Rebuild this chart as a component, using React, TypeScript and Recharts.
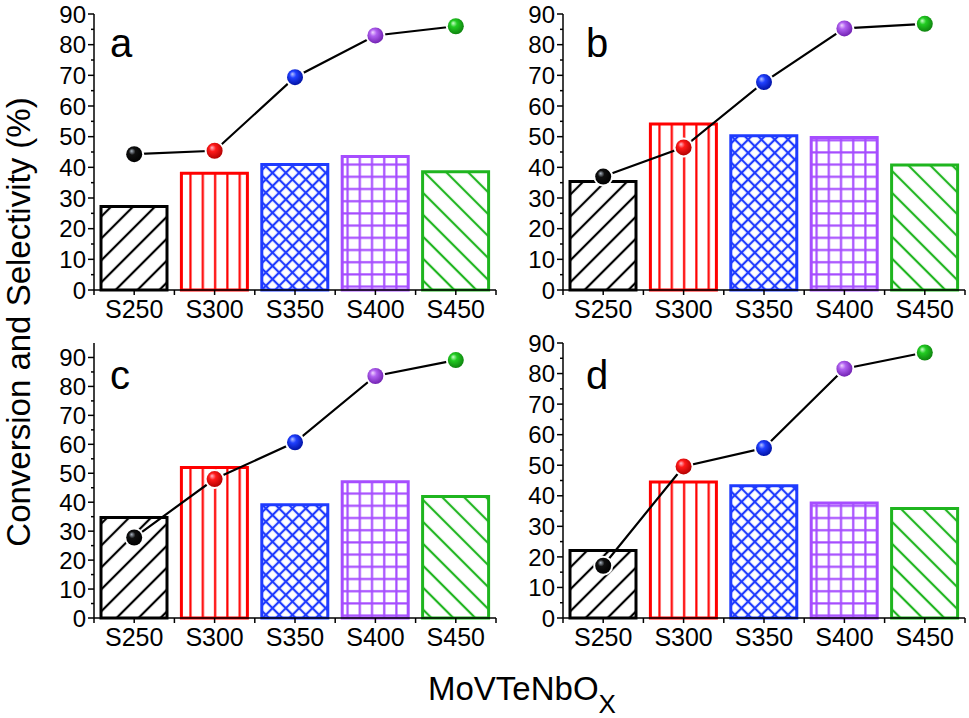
import React from 'react';
import { ComposedChart, Bar, Line, XAxis, YAxis, Cell } from 'recharts';

const FONT = '"Liberation Sans", Arial, Helvetica, sans-serif';

const categories = ['S250', 'S300', 'S350', 'S400', 'S450'];
const barColors = ['#000000', '#ff0000', '#1f3bff', '#a64dff', '#1fb51f'];
const sphereLight = ['#aab4c0', '#ffb8c8', '#b8c4ff', '#f0d4ff', '#c8ffc8'];
const sphereMid = ['#101010', '#ff1a1a', '#2040ff', '#b060f0', '#22cc22'];
const sphereDark = ['#000000', '#b00000', '#0010a0', '#7020b0', '#0e800e'];
const yTickValues = [0, 5, 10, 15, 20, 25, 30, 35, 40, 45, 50, 55, 60, 65, 70, 75, 80, 85, 90];

const barsA = [27.2, 38.1, 40.9, 43.5, 38.6];
const lineA = [44.3, 45.4, 69.4, 83.0, 86.0];
const barsB = [35.4, 54.1, 50.3, 49.7, 40.8];
const lineB = [37.0, 46.5, 67.8, 85.3, 86.8];
const barsC = [34.7, 52.0, 39.1, 47.1, 42.0];
const lineC = [27.8, 48.0, 60.7, 83.6, 89.1];
const barsD = [22.1, 44.5, 43.3, 37.6, 35.8];
const lineD = [17.1, 49.6, 55.6, 81.6, 86.9];

const CHART_W = 500;
const CHART_H = 330;
const AXIS_X = 94;
const BAND = 402 / 5;

function YTick(props: any) {
  const { y, payload } = props;
  const v = payload.value;
  const major = v % 10 === 0;
  return (
    <g>
      <line x1={AXIS_X - (major ? 6 : 3)} x2={AXIS_X} y1={y} y2={y} stroke="#000" strokeWidth={1.5} />
      {major && (
        <text x={AXIS_X - 8} y={y} dy="0.36em" textAnchor="end" fontSize={24} fontFamily={FONT} fill="#000">
          {v}
        </text>
      )}
    </g>
  );
}

function XTick(props: any) {
  const { x, payload, axisY } = props;
  const idx = categories.indexOf(payload.value);
  return (
    <g>
      <line x1={x} x2={x} y1={axisY} y2={axisY + 5} stroke="#000" strokeWidth={1.5} />
      <line x1={x - BAND / 2} x2={x - BAND / 2} y1={axisY} y2={axisY + 5} stroke="#000" strokeWidth={1.5} />
      {idx === categories.length - 1 && (
        <line x1={x + BAND / 2} x2={x + BAND / 2} y1={axisY} y2={axisY + 5} stroke="#000" strokeWidth={1.5} />
      )}
      <text x={x} y={axisY + 28} textAnchor="middle" fontSize={25} fontFamily={FONT} fill="#000">
        {payload.value}
      </text>
    </g>
  );
}

function Sphere(props: any) {
  const { cx, cy, index } = props;
  if (cx == null || cy == null) return <g key={`s${index}`} />;
  return (
    <g key={`s${index}`}>
      <circle cx={cx} cy={cy} r={10} fill="#ffffff" />
      <circle cx={cx} cy={cy} r={8} fill={`url(#sph${index})`} />
    </g>
  );
}

type PanelProps = {
  letter: string;
  bars: number[];
  line: number[];
  yMax: number;
  left: number;
  top: number;
  bottomMargin: number;
  letterX: number;
  letterY: number;
};

function Panel({ letter, bars, line, yMax, left, top, bottomMargin, letterX, letterY }: PanelProps) {
  const data = categories.map((c, i) => ({ name: c, bar: bars[i], line: line[i] }));
  const axisY = CHART_H - bottomMargin - 30;
  return (
    <div style={{ position: 'absolute', left, top, width: CHART_W, height: CHART_H }}>
      <ComposedChart
        width={CHART_W}
        height={CHART_H}
        data={data}
        margin={{ top: 14, right: 4, left: 34, bottom: bottomMargin }}
      >
        <XAxis
          dataKey="name"
          height={30}
          axisLine={{ stroke: '#000', strokeWidth: 1.5 }}
          tickLine={false}
          interval={0}
          tick={(p: any) => <XTick {...p} axisY={axisY} />}
        />
        <XAxis
          xAxisId="top"
          dataKey="name"
          orientation="top"
          height={0}
          tick={false}
          tickLine={false}
          axisLine={{ stroke: '#666', strokeWidth: 1.5 }}
        />
        <YAxis
          width={60}
          domain={[0, yMax]}
          ticks={yTickValues}
          interval={0}
          axisLine={{ stroke: '#000', strokeWidth: 1.5 }}
          tickLine={false}
          tick={(p: any) => <YTick {...p} />}
        />
        <YAxis
          yAxisId="r"
          orientation="right"
          width={0}
          domain={[0, yMax]}
          tick={false}
          tickLine={false}
          axisLine={{ stroke: '#666', strokeWidth: 1.5 }}
        />
        <Bar dataKey="bar" barSize={66} isAnimationActive={false}>
          {data.map((d, i) => (
            <Cell key={d.name} fill={`url(#hatch${i})`} stroke={barColors[i]} strokeWidth={3} />
          ))}
        </Bar>
        <Line
          type="linear"
          dataKey="line"
          stroke="#000"
          strokeWidth={2.2}
          isAnimationActive={false}
          activeDot={false}
          dot={(p: any) => <Sphere {...p} key={`dot${p.index}`} />}
        />
      </ComposedChart>
      <svg
        width={CHART_W}
        height={CHART_H}
        style={{ position: 'absolute', left: 0, top: 0, pointerEvents: 'none' }}
      >
        <text x={letterX} y={letterY} fontSize={40} fontFamily={FONT} fill="#000">
          {letter}
        </text>
      </svg>
    </div>
  );
}

function Defs() {
  return (
    <svg width={0} height={0} style={{ position: 'absolute', left: 0, top: 0 }}>
      <defs>
        <pattern id="hatch0" patternUnits="userSpaceOnUse" width={15.5} height={15.5} patternTransform="rotate(45)">
          <rect width={15.5} height={15.5} fill="#fff" />
          <line x1={7.75} y1={0} x2={7.75} y2={15.5} stroke={barColors[0]} strokeWidth={2.2} />
        </pattern>
        <pattern id="hatch1" patternUnits="userSpaceOnUse" width={12.3} height={20}>
          <rect width={12.3} height={20} fill="#fff" />
          <line x1={6} y1={0} x2={6} y2={20} stroke={barColors[1]} strokeWidth={2.2} />
        </pattern>
        <pattern id="hatch2" patternUnits="userSpaceOnUse" width={9.4} height={9.4} patternTransform="rotate(45)">
          <rect width={9.4} height={9.4} fill="#fff" />
          <line x1={4.7} y1={0} x2={4.7} y2={9.4} stroke={barColors[2]} strokeWidth={2.2} />
          <line x1={0} y1={4.7} x2={9.4} y2={4.7} stroke={barColors[2]} strokeWidth={2.2} />
        </pattern>
        <pattern id="hatch3" patternUnits="userSpaceOnUse" width={12.2} height={12.2}>
          <rect width={12.2} height={12.2} fill="#fff" />
          <line x1={6} y1={0} x2={6} y2={12.2} stroke={barColors[3]} strokeWidth={2.2} />
          <line x1={0} y1={6} x2={12.2} y2={6} stroke={barColors[3]} strokeWidth={2.2} />
        </pattern>
        <pattern id="hatch4" patternUnits="userSpaceOnUse" width={15.5} height={15.5} patternTransform="rotate(-45)">
          <rect width={15.5} height={15.5} fill="#fff" />
          <line x1={7.75} y1={0} x2={7.75} y2={15.5} stroke={barColors[4]} strokeWidth={2.2} />
        </pattern>
        {categories.map((c, i) => (
          <radialGradient key={c} id={`sph${i}`} cx="0.45" cy="0.42" r="0.6" fx="0.33" fy="0.3">
            <stop offset="0%" stopColor={sphereLight[i]} />
            <stop offset="35%" stopColor={sphereMid[i]} />
            <stop offset="100%" stopColor={sphereDark[i]} />
          </radialGradient>
        ))}
      </defs>
    </svg>
  );
}

export default function App() {
  return (
    <div
      style={{
        position: 'absolute',
        left: 0,
        top: 0,
        width: 969,
        height: 718,
        background: '#fff',
        fontFamily: FONT,
        overflow: 'hidden',
      }}
    >
      <Defs />
      <Panel letter="a" bars={barsA} line={lineA} yMax={90} left={0} top={0} bottomMargin={10} letterX={110} letterY={57} />
      <Panel letter="b" bars={barsB} line={lineB} yMax={90} left={469} top={0} bottomMargin={10} letterX={117} letterY={57} />
      <Panel letter="c" bars={barsC} line={lineC} yMax={95} left={0} top={329} bottomMargin={11} letterX={110} letterY={60} />
      <Panel letter="d" bars={barsD} line={lineD} yMax={90} left={469} top={329} bottomMargin={11} letterX={117} letterY={60} />
      <svg width={969} height={718} style={{ position: 'absolute', left: 0, top: 0, pointerEvents: 'none' }}>
        <text
          x={30}
          y={322}
          transform="rotate(-90, 30, 322)"
          textAnchor="middle"
          fontSize={33}
          fontFamily={FONT}
          fill="#000"
        >
          Conversion and Selectivity (%)
        </text>
        <text x={428} y={700} fontSize={33} fontFamily={FONT} fill="#000">
          MoVTeNbO
          <tspan fontSize={26} dy={13}>
            X
          </tspan>
        </text>
      </svg>
    </div>
  );
}
